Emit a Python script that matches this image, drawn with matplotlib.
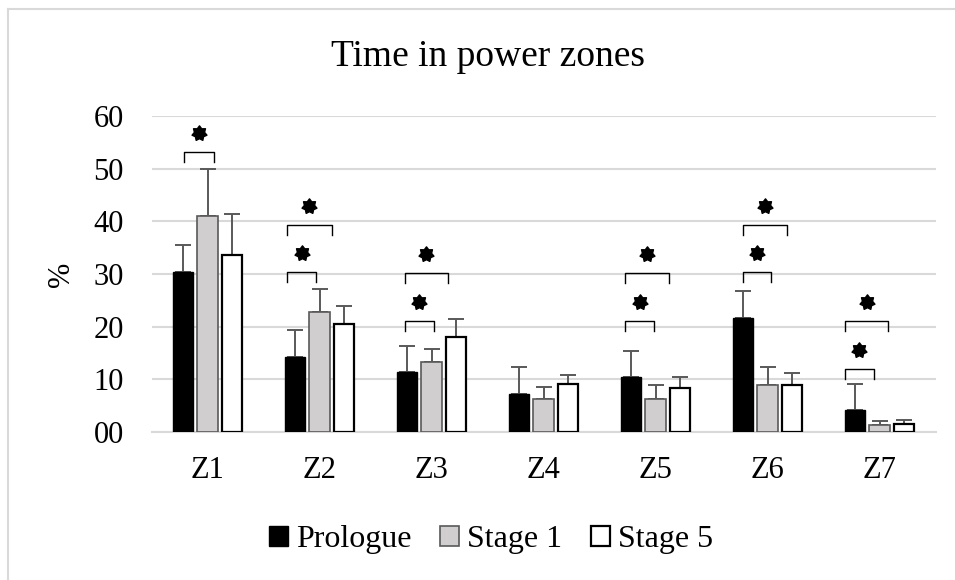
import matplotlib
matplotlib.use("Agg")
import matplotlib.pyplot as plt
import numpy as np
from matplotlib.lines import Line2D
from matplotlib.path import Path

plt.rcParams['font.family'] = ['Liberation Serif', 'DejaVu Serif']

zones = ["Z1", "Z2", "Z3", "Z4", "Z5", "Z6", "Z7"]
series_names = ["Prologue", "Stage 1", "Stage 5"]
prologue = [30.3, 14.2, 11.3, 7.2, 10.4, 21.7, 4.1]
prologue_sd = [5.2, 5.2, 5.1, 5.1, 5.0, 5.1, 5.1]
stage1 = [41.0, 22.8, 13.2, 6.3, 6.3, 8.9, 1.4]
stage1_sd = [8.9, 4.3, 2.6, 2.2, 2.7, 3.4, 0.7]
stage5 = [33.6, 20.6, 18.1, 9.1, 8.4, 9.0, 1.6]
stage5_sd = [7.8, 3.4, 3.3, 1.8, 2.0, 2.2, 0.7]
y_ticks = [0, 10, 20, 30, 40, 50, 60]
y_tick_labels = ["00", "10", "20", "30", "40", "50", "60"]

# significance brackets: (zone index, x-start offset, x-end offset, height)
brackets = [
    (0, -0.21, 0.06, 53.1),
    (1, -0.29, -0.03, 30.3), (1, -0.29, 0.11, 39.3),
    (2, -0.24, 0.02, 21.1), (2, -0.24, 0.15, 30.2),
    (4, -0.27, -0.01, 21.1), (4, -0.27, 0.12, 30.2),
    (5, -0.22, 0.03, 30.3), (5, -0.22, 0.17, 39.3),
    (6, -0.31, -0.05, 12.0), (6, -0.31, 0.08, 21.1),
]

# custom solid star marker (7 points)
npts = 7
ang = np.pi / 2 + np.arange(2 * npts) * np.pi / npts
rad = np.where(np.arange(2 * npts) % 2 == 0, 1.0, 0.68)
verts = np.column_stack([rad * np.cos(ang), rad * np.sin(ang)])
verts = np.vstack([verts, verts[0]])
star = Path(verts, closed=True)

fig = plt.figure(figsize=(9.55, 5.8), dpi=100)
ax = fig.add_axes([151.5/955, 1-432/580, (935.5-151.5)/955, (432-116)/580])

x = np.arange(len(zones))
w = 0.18
off = 0.219
styles = [
    dict(color="black", edgecolor="black", linewidth=1.0),
    dict(color="#d0cece", edgecolor="#595959", linewidth=1.2),
    dict(color="white", edgecolor="black", linewidth=1.6),
]
datas = [(prologue, prologue_sd), (stage1, stage1_sd), (stage5, stage5_sd)]
handles = []
for i, ((vals, sd), st) in enumerate(zip(datas, styles)):
    pos = x + (i - 1) * off
    ax.errorbar(pos, vals, yerr=[np.zeros(len(sd)), sd], fmt="none",
                ecolor="#595959", elinewidth=1.4, capsize=6, capthick=1.4, zorder=2)
    b = ax.bar(pos, vals, width=w, zorder=3, label=series_names[i], **st)
    handles.append(b)

leg_h = 1.9
for zi, a, bb, h in brackets:
    x0, x1 = zi + a, zi + bb
    ax.plot([x0, x0, x1, x1], [h - leg_h, h, h, h - leg_h], color="black",
            lw=1.0, clip_on=False, zorder=4)
    ax.plot([(x0 + x1) / 2], [h + 3.6], marker=star, markersize=11,
            color="black", clip_on=False, zorder=4, linestyle="none")

ax.set_xlim(-0.5, len(zones) - 0.5)
ax.set_ylim(0, 60)
ax.set_yticks(y_ticks)
ax.set_yticklabels(y_tick_labels, fontsize=22)
ax.set_xticks(x)
ax.set_xticklabels(zones, fontsize=22)
ax.tick_params(axis="y", length=0, pad=20)
ax.tick_params(axis="x", length=0, pad=17)
ax.grid(axis="y", color="#d9d9d9", lw=1.5, zorder=0)
ax.set_axisbelow(True)
for s in ["top", "right", "left"]:
    ax.spines[s].set_visible(False)
ax.spines["bottom"].set_color("#d9d9d9")
ax.spines["bottom"].set_linewidth(1.5)

fig.text(62/955, 1-274/580, "%", rotation=90, fontsize=22, ha="center", va="center")
fig.text(488/955, 1-57/580, "Time in power zones", fontsize=27, ha="center", va="center")

fig.legend(handles=handles, labels=series_names, loc="center", bbox_to_anchor=(491/955, 1-540/580),
           ncol=3, frameon=False, fontsize=23, handlelength=0.6, handleheight=0.6,
           handletextpad=0.25, columnspacing=0.9)

fig.add_artist(Line2D([7.5/955, 7.5/955], [0, 1-9/580], color="#d9d9d9", lw=1.5))
fig.add_artist(Line2D([7.5/955, 1], [1-9/580, 1-9/580], color="#d9d9d9", lw=1.5))

fig.savefig("out.png", dpi=100)
